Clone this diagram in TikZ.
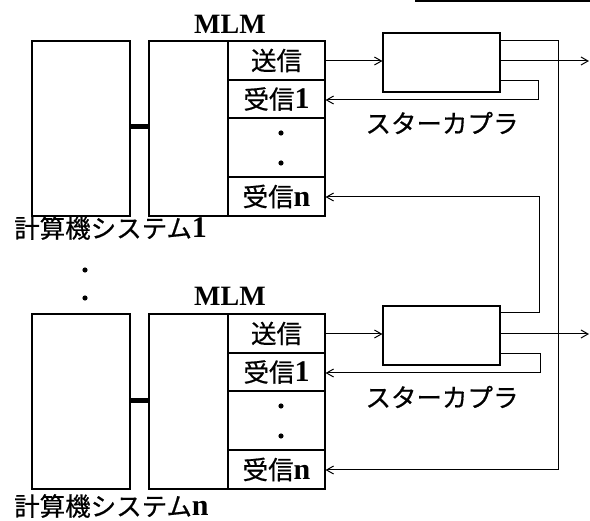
\documentclass[tikz,border=0pt]{standalone}
\usepackage{fontspec}
\setmainfont{Liberation Serif}
\newfontfamily\jp{Noto Sans CJK JP}[FakeBold=0.6]
\usepackage{tikz}
\usetikzlibrary{arrows.meta}
\tikzstyle{box} = [draw, line width=1.2pt, inner sep=0pt]
\tikzstyle{cell} = [box, minimum width=97pt]
\tikzstyle{txt} = [font=\fontsize{25.5}{26}\selectfont, inner sep=0pt]
\tikzstyle{wire} = [draw, line width=1pt, >={Straight Barb[length=7pt,width=8pt]}]
\newcommand{\bnum}[1]{{\fontsize{30}{30}\selectfont\bfseries #1}}
\newcommand{\jrx}[1]{{\jp 受信}\bnum{#1}}

\begin{document}
\begin{tikzpicture}[x=1pt, y=-1pt]
  \useasboundingbox (0,0) rectangle (590,521);
  \draw[line width=1.5pt] (415,0.8) -- (590,0.8);

  % system 1
  \node[box, minimum width=98pt, minimum height=175pt] (comp1) at (81, 128.5) {};
  \node[box, minimum width=176pt, minimum height=175pt] (mlm1) at (237, 128.5) {};
  \node[cell, minimum height=39pt, txt] (tx1) at (276.5, 60.5) {\jp 送信};
  \node[cell, minimum height=38pt, txt] (rxa1) at (276.5, 99) {\jrx{1}};
  \node[cell, minimum height=59pt] (dots1) at (276.5, 147.5) {};
  \node[cell, minimum height=39pt, txt] (rxn1) at (276.5, 196.5) {\jrx{n}};
  \fill (281, 133) circle (2.6pt) (281, 163) circle (2.6pt);
  \node[txt, font=\fontsize{28}{28}\selectfont\bfseries] (mlmlab1) at (230, 24) {MLM};
  \node[txt, anchor=west] (complab1) at (14, 228) {{\jp 計算機システム}\bnum{1}};
  \node[box, minimum width=117pt, minimum height=59pt] (sc1) at (441.5, 62.5) {};
  \node[txt] (sclab1) at (442, 123) {\jp スターカプラ};

  \fill (85, 270) circle (2.6pt) (85, 298) circle (2.6pt);

  % system n
  \node[box, minimum width=98pt, minimum height=175pt] (comp2) at (81, 401.5) {};
  \node[box, minimum width=176pt, minimum height=175pt] (mlm2) at (237, 401.5) {};
  \node[cell, minimum height=39pt, txt] (tx2) at (276.5, 333.5) {\jp 送信};
  \node[cell, minimum height=38pt, txt] (rxa2) at (276.5, 372) {\jrx{1}};
  \node[cell, minimum height=59pt] (dots2) at (276.5, 420.5) {};
  \node[cell, minimum height=39pt, txt] (rxn2) at (276.5, 469.5) {\jrx{n}};
  \fill (281, 406) circle (2.6pt) (281, 436) circle (2.6pt);
  \node[txt, font=\fontsize{28}{28}\selectfont\bfseries] (mlmlab2) at (230, 296) {MLM};
  \node[txt, anchor=west] (complab2) at (14, 506) {{\jp 計算機システム}\bnum{n}};
  \node[box, minimum width=117pt, minimum height=59pt] (sc2) at (441.5, 335.5) {};
  \node[txt] (sclab2) at (442, 397) {\jp スターカプラ};

  \coordinate (out1) at (589, 61);
  \coordinate (out2) at (589, 334);

  \path[draw, line width=5pt] (comp1.east |- 0,127) -- (mlm1.west |- 0,127);
  \path[draw, line width=5pt] (comp2.east |- 0,401) -- (mlm2.west |- 0,401);

  \path[wire,->] (tx1.east |- 0,61) -- (sc1.west |- 0,61);
  \path[wire,->] (sc1.east |- 0,61) -- (out1);
  \path[wire,->] (sc1.east |- 0,41) -- (558,41) -- (558,470) -- (rxn2.east |- 0,470);
  \path[wire,->] (sc1.east |- 0,81) -- (538,81) -- (538,100) -- (rxa1.east |- 0,100);
  \path[wire,->] (sc2.east |- 0,313) -- (539,313) -- (539,197) -- (rxn1.east |- 0,197);
  \path[wire,->] (tx2.east |- 0,334) -- (sc2.west |- 0,334);
  \path[wire,->] (sc2.east |- 0,334) -- (out2);
  \path[wire,->] (sc2.east |- 0,354) -- (540,354) -- (540,373) -- (rxa2.east |- 0,373);
\end{tikzpicture}
\end{document}
